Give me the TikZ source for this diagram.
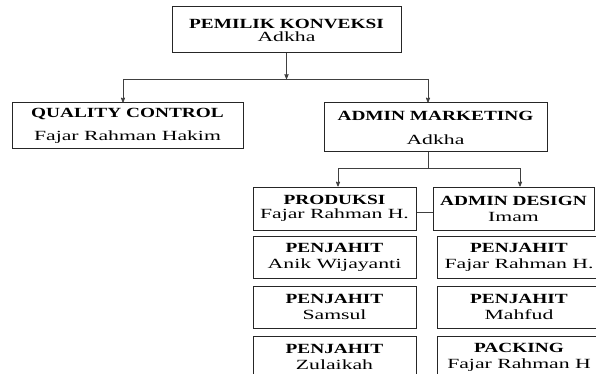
\documentclass[tikz,border=0pt]{standalone}
\usepackage{fontspec}
\usepackage{tikz}
\usetikzlibrary{arrows}
\newfontfamily\titelfont[FakeStretch=1.38]{Liberation Serif}
\newfontfamily\namafont[FakeStretch=1.55]{Liberation Serif}
\tikzset{
  box/.style={draw=black!85, line width=1pt, rectangle, inner sep=0pt, align=center,
    font=\fontsize{14}{16}\selectfont},
  conn/.style={draw=black!75, line width=.8pt, >=stealth'},
}
\newcommand{\jab}[1]{{\titelfont\bfseries #1}}
\newcommand{\nam}[1]{{\namafont #1}}

\begin{document}
\begin{tikzpicture}[x=1pt, y=-1pt]
    \useasboundingbox (0,0) rectangle (596,374);
    \clip (0,0) rectangle (596,374);
    % pimpinan
    \node[box, minimum width=229, minimum height=46] (pemilik) at (286.5,30) {\jab{PEMILIK KONVEKSI}\\[-3pt]\nam{Adkha}};
    \node[box, minimum width=231, minimum height=46] (qc) at (127.5,126) {\jab{QUALITY CONTROL}\\[7pt]\nam{Fajar Rahman Hakim}};
    \node[box, minimum width=223, minimum height=49] (am) at (435.5,127.5) {\jab{ADMIN MARKETING}\\[8pt]\nam{Adkha}};
    \node[box, minimum width=163, minimum height=43] (produksi) at (334.5,208.5) {\jab{PRODUKSI}\\[-2pt]\nam{Fajar Rahman H.}};
    \node[box, minimum width=161, minimum height=43] (design) at (513.5,208.5) {\jab{ADMIN DESIGN}\\\nam{Imam}};
    % bagian bawah
    \foreach \nm [count=\i] in {Anik Wijayanti, Samsul, Zulaikah} {
      \node[box, minimum width=163, minimum height=42] (kiri\i) at (334.5,207+50*\i) {\jab{PENJAHIT}\\\nam{\nm}};
    }
    \foreach \jb/\nm [count=\i] in {PENJAHIT/Fajar Rahman H., PENJAHIT/Mahfud, PACKING/Fajar Rahman H} {
      \node[box, minimum width=164, minimum height=42] (kanan\i) at (519,207+50*\i) {\jab{\jb}\\\nam{\nm}};
    }
    % garis
    \coordinate (busA) at (0,79);
    \coordinate (busB) at (0,168);
    \draw[conn,->] (pemilik.south) -- (pemilik.south |- busA);
    \draw[conn] ([xshift=-4.5pt]qc.north |- busA) -- ([xshift=-7.5pt]am.north |- busA);
    \draw[conn,->] ([xshift=-4.5pt]qc.north |- busA) -- ([xshift=-4.5pt]qc.north);
    \draw[conn,->] ([xshift=-7.5pt]am.north |- busA) -- ([xshift=-7.5pt]am.north);
    \draw[conn] ([xshift=-7.5pt]am.south) -- ([xshift=-7.5pt]am.south |- busB);
    \draw[conn] ([xshift=3.5pt]produksi.north |- busB) -- ([xshift=6.5pt]design.north |- busB);
    \draw[conn,->] ([xshift=3.5pt]produksi.north |- busB) -- ([xshift=3.5pt]produksi.north);
    \draw[conn,->] ([xshift=6.5pt]design.north |- busB) -- ([xshift=6.5pt]design.north);
    \draw[conn] ([yshift=-3.5pt]produksi.east) -- ([yshift=-3.5pt]produksi.east -| design.west);
\end{tikzpicture}
\end{document}
